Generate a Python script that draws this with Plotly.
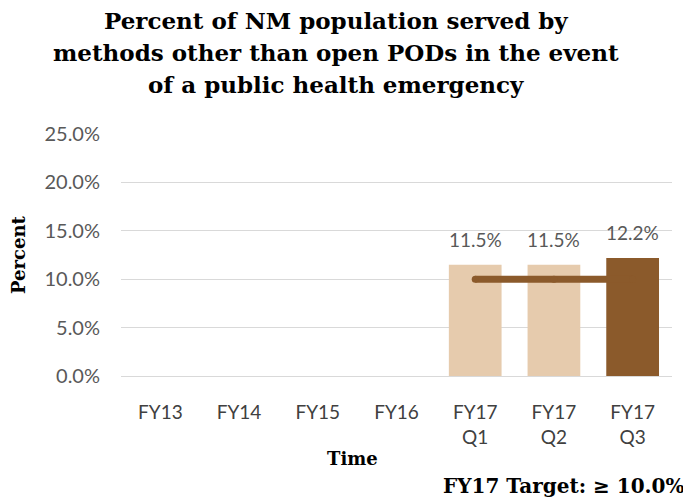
import plotly.graph_objects as go

categories = ["FY13", "FY14", "FY15", "FY16", "FY17<br>Q1", "FY17<br>Q2", "FY17<br>Q3"]
values = [None, None, None, None, 11.5, 11.5, 12.2]
target = [None, None, None, None, 10.0, 10.0, 10.0]
bar_colors = ["#E6CBAD"] * 6 + ["#8B5A2B"]
title_lines = [
    "Percent of NM population served by",
    "methods other than open PODs in the event",
    "of a public health emergency",
]

fig = go.Figure()
fig.add_trace(go.Bar(
    x=categories, y=values, marker=dict(color=bar_colors, line=dict(width=0)),
    width=0.67, hoverinfo="skip",
))
fig.add_trace(go.Scatter(
    x=categories, y=target, mode="lines+markers",
    line=dict(color="#8B5A2B", width=7),
    marker=dict(color="#8B5A2B", size=7, line=dict(width=0)),
    hoverinfo="skip",
))

for c, v in zip(categories, values):
    if v is not None:
        fig.add_annotation(x=c, y=v, text=f"{v:.1f}%", showarrow=False,
                           yanchor="bottom", yshift=12,
                           font=dict(family="Lato", size=19, color="#595959"))

serif = "DejaVu Serif"
# positions given relative to the plot area (top=134, bottom=376, left=121, width=551 in reference px)
for i, line in enumerate(title_lines):
    ypix = 20 + i * 32.5
    fig.add_annotation(xref="paper", yref="paper", x=(336 - 121) / 551, xanchor="center",
                       y=(376 - ypix) / 242, yanchor="middle",
                       text=f"<b>{line}</b>", showarrow=False,
                       font=dict(family=serif, size=23, color="#000"))

fig.add_annotation(xref="paper", yref="paper", x=(352 - 121) / 551, y=(376 - 458) / 242,
                   xanchor="center", yanchor="middle", text="<b>Time</b>",
                   showarrow=False, font=dict(family=serif, size=18, color="#000"))
fig.add_annotation(xref="paper", yref="paper", x=(18 - 121) / 551, y=(376 - 255) / 242,
                   xanchor="center", yanchor="middle", text="<b>Percent</b>",
                   textangle=-90, showarrow=False,
                   font=dict(family=serif, size=18, color="#000"))
fig.add_annotation(xref="paper", yref="paper", x=(686 - 121) / 551, y=(376 - 486) / 242,
                   xanchor="right", yanchor="middle",
                   text="<b>FY17 Target: ≥ 10.0%</b>", showarrow=False,
                   font=dict(family=serif, size=20, color="#000"))

# page body adds an 8px margin; figure is sized/offset to compensate
fig.update_layout(
    width=683, height=496,
    margin=dict(l=113, r=19, t=126, b=128, autoexpand=False),
    paper_bgcolor="white", plot_bgcolor="white",
    showlegend=False,
    xaxis=dict(showgrid=False, showline=False, ticks="", ticklabelstandoff=23,
               automargin=False,
               tickfont=dict(family="Lato", size=19, color="#404040")),
    yaxis=dict(range=[0, 25], dtick=5, tickformat=".1f", ticksuffix="%",
               showgrid=True, gridcolor="#D9D9D9", gridwidth=1,
               zeroline=True, zerolinecolor="#D9D9D9", zerolinewidth=1,
               showline=False, ticks="", ticklabelstandoff=20, automargin=False,
               tickfont=dict(family="Lato", size=20, color="#595959")),
    bargap=0.33,
)

fig.write_html("out.html")
